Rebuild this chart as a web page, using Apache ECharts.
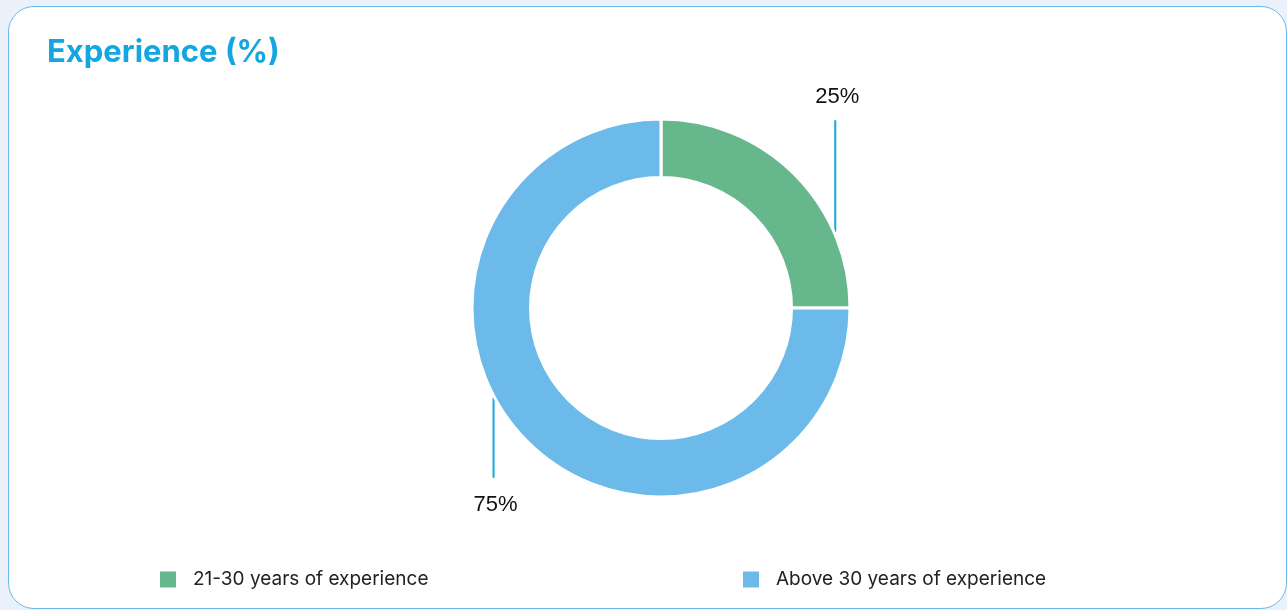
<!DOCTYPE html>
<html>
<head>
<meta charset="utf-8">
<script src="https://cdn.jsdelivr.net/npm/echarts@6/dist/echarts.min.js"></script>
<style>
  html, body { margin: 0; padding: 0; width: 1287px; height: 610px; overflow: hidden; background: #eaf1fb; }
  #card { position: absolute; left: 8px; top: 6px; width: 1279px; height: 603px; box-sizing: border-box;
          background: #ffffff; border: 1.5px solid #6cb9ea; border-radius: 26px; }
  #chart { position: absolute; left: 0; top: 0; width: 1287px; height: 610px; }
</style>
</head>
<body>
<div id="card"></div>
<div id="chart"></div>
<script>
// Data
const chartTitle = 'Experience (%)';
const categories = ['21-30 years of experience', 'Above 30 years of experience'];
const shares = [25, 75];

// Styling
const sliceColors = ['#66b88c', '#6cbae9'];
const ringCenter = [661, 308];
const ringRadius = [130.5, 189];
const leaderAngle = [66.5, 241.8];   // degrees clockwise from 12 o'clock where each leader leaves the ring
const leaderLength = [112, 80];
const leaderColor = '#10a8e3';
const legendLeft = [160, 743];

const chart = echarts.init(document.getElementById('chart'), null, { renderer: 'canvas' });

const legends = categories.map((name, i) => ({
  data: [name],
  left: legendLeft[i],
  top: 570,
  padding: 0,
  orient: 'horizontal',
  icon: 'rect',
  itemWidth: 16,
  itemHeight: 16,
  itemStyle: { borderWidth: 0 },
  selectedMode: false,
  textStyle: { fontFamily: 'Inter', fontSize: 19, color: '#222222', padding: [0, 0, 0, 12], lineHeight: 17 }
}));

chart.setOption({
  animation: false,
  color: sliceColors,
  title: {
    text: chartTitle,
    left: 42,
    top: 30,
    textStyle: { fontFamily: 'Inter', fontWeight: 'bold', fontSize: 31, color: '#13a6e0', lineHeight: 36 }
  },
  legend: legends,
  series: [{
    type: 'pie',
    center: ringCenter,
    radius: ringRadius,
    startAngle: 90,
    clockwise: true,
    silent: true,
    itemStyle: { borderColor: '#ffffff', borderWidth: 3 },
    label: {
      show: true,
      formatter: '{c}%',
      fontFamily: 'Liberation Sans, Arial, sans-serif',
      fontSize: 22,
      color: '#111111'
    },
    labelLine: { show: true, lineStyle: { color: leaderColor, width: 2 } },
    labelLayout: function (p) {
      const i = p.dataIndex;
      const a = leaderAngle[i] * Math.PI / 180;
      const r = ringRadius[1] + 1;
      const x = ringCenter[0] + r * Math.sin(a);
      const y = ringCenter[1] - r * Math.cos(a);
      const up = Math.cos(a) > 0;
      const yEnd = up ? y - leaderLength[i] : y + leaderLength[i];
      const yLabel = up ? yEnd - 23 : yEnd + 27;
      return {
        x: x + 2,
        y: yLabel,
        align: 'center',
        verticalAlign: 'middle',
        labelLinePoints: [[x, y], [x, yEnd], [x, yEnd]]
      };
    },
    data: categories.map((name, i) => ({ name: name, value: shares[i] }))
  }]
});
</script>
</body>
</html>
